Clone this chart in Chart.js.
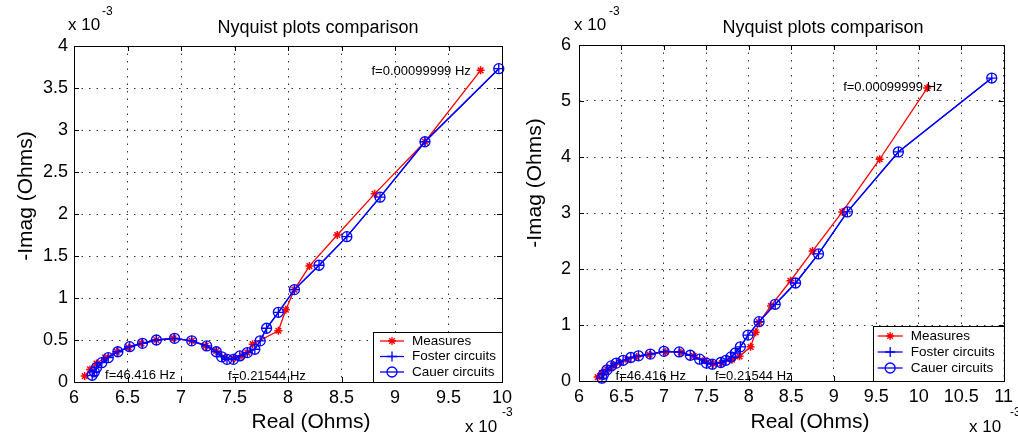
<!DOCTYPE html>
<html>
<head>
<meta charset="utf-8">
<script src="https://cdn.jsdelivr.net/npm/chart.js@4/dist/chart.umd.min.js"></script>
<style>
  body { margin: 0; background: #fff; }
  #wrapA { position: absolute; left: 0; top: 0; }
  #wrapB { position: absolute; left: 509px; top: 0; }
</style>
</head>
<body>
<div id="wrapA"><canvas id="chartA" width="530" height="438"></canvas></div>
<div id="wrapB"><canvas id="chartB" width="509" height="438"></canvas></div>
<script>
// values in units of 1e-3 Ohm (axes carry the "x 10^-3" multiplier)

// --- left plot ---
const measARe = [6.10, 6.15, 6.21, 6.29, 6.40, 6.51, 6.63, 6.77, 6.93, 7.10, 7.23, 7.33, 7.41, 7.49, 7.57, 7.62, 7.67, 7.91, 7.98, 8.06, 8.20, 8.46, 8.81, 9.28, 9.80];
const measAIm = [0.07, 0.15, 0.22, 0.29, 0.36, 0.41, 0.46, 0.50, 0.52, 0.49, 0.43, 0.37, 0.29, 0.28, 0.31, 0.35, 0.45, 0.61, 0.86, 1.10, 1.38, 1.75, 2.24, 2.86, 3.71];
const fosterARe = [6.17, 6.19, 6.21, 6.26, 6.32, 6.41, 6.52, 6.64, 6.77, 6.94, 7.10, 7.24, 7.33, 7.38, 7.43, 7.49, 7.55, 7.62, 7.69, 7.74, 7.80, 7.91, 8.06, 8.29, 8.55, 8.86, 9.28, 9.97];
const fosterAIm = [0.08, 0.12, 0.17, 0.23, 0.29, 0.36, 0.42, 0.46, 0.50, 0.52, 0.49, 0.43, 0.36, 0.30, 0.27, 0.27, 0.31, 0.35, 0.39, 0.49, 0.64, 0.83, 1.10, 1.39, 1.73, 2.20, 2.86, 3.73];
const cauerARe = fosterARe.slice();
const cauerAIm = fosterAIm.slice();
const xTicksA = [6, 6.5, 7, 7.5, 8, 8.5, 9, 9.5, 10];
const yTicksA = [0, 0.5, 1, 1.5, 2, 2.5, 3, 3.5, 4];
const noteTextA = ["f=46.416 Hz", "f=0.21544 Hz", "f=0.00099999 Hz"];
const noteReA = [6.29, 7.44, 8.78];
const noteImA = [0.08, 0.07, 3.70];

// --- right plot ---
const measBRe = [6.22, 6.27, 6.33, 6.40, 6.48, 6.57, 6.68, 6.83, 7.02, 7.20, 7.35, 7.48, 7.58, 7.68, 7.80, 7.89, 8.02, 8.08, 8.12, 8.26, 8.49, 8.75, 9.10, 9.54, 10.10];
const measBIm = [0.07, 0.14, 0.21, 0.27, 0.33, 0.38, 0.43, 0.47, 0.52, 0.51, 0.45, 0.37, 0.31, 0.32, 0.38, 0.44, 0.61, 0.87, 1.05, 1.34, 1.79, 2.32, 3.02, 3.96, 5.23];
const fosterBRe = [6.27, 6.29, 6.33, 6.38, 6.44, 6.52, 6.61, 6.70, 6.84, 7.00, 7.18, 7.31, 7.42, 7.50, 7.57, 7.67, 7.73, 7.79, 7.84, 7.90, 7.99, 8.12, 8.31, 8.55, 8.82, 9.16, 9.76, 10.86];
const fosterBIm = [0.05, 0.12, 0.20, 0.27, 0.32, 0.37, 0.42, 0.45, 0.48, 0.53, 0.52, 0.46, 0.39, 0.32, 0.30, 0.33, 0.37, 0.43, 0.50, 0.61, 0.82, 1.06, 1.37, 1.75, 2.27, 3.02, 4.09, 5.41];
const cauerBRe = fosterBRe.slice();
const cauerBIm = fosterBIm.slice();
const xTicksB = [6, 6.5, 7, 7.5, 8, 8.5, 9, 9.5, 10, 10.5, 11];
const yTicksB = [0, 1, 2, 3, 4, 5, 6];
const noteTextB = ["f=46.416 Hz", "f=0.21544 Hz", "f=0.00099999 Hz"];
const noteReB = [6.43, 7.60, 9.11];
const noteImB = [0.09, 0.09, 5.25];

const seriesNames = ["Measures", "Foster circuits", "Cauer circuits"];
const FONT = "'Liberation Sans', Arial, Helvetica, sans-serif";
const RED = "#ff0000";
const BLUE = "#0000ff";

function pts(re, im) {
  return re.map((v, i) => ({ x: v, y: im[i] }));
}

// small marker painter, used for the legend
function marker(ctx, kind, x, y, color) {
  ctx.strokeStyle = color;
  ctx.lineWidth = 1.3;
  ctx.beginPath();
  if (kind === "star") {
    const r = 4, d = r * 0.707;
    ctx.moveTo(x - r, y); ctx.lineTo(x + r, y);
    ctx.moveTo(x, y - r); ctx.lineTo(x, y + r);
    ctx.moveTo(x - d, y - d); ctx.lineTo(x + d, y + d);
    ctx.moveTo(x - d, y + d); ctx.lineTo(x + d, y - d);
  } else if (kind === "cross") {
    ctx.moveTo(x - 5, y); ctx.lineTo(x + 5, y);
    ctx.moveTo(x, y - 5); ctx.lineTo(x, y + 5);
  } else {
    ctx.arc(x, y, 5, 0, Math.PI * 2);
  }
  ctx.stroke();
}

const matlabLook = {
  id: "matlabLook",
  afterDraw(chart, args, o) {
    const { ctx, chartArea: a, scales } = chart;
    const sx = scales.x, sy = scales.y;
    ctx.save();

    // box + inward ticks
    ctx.strokeStyle = "#000";
    ctx.lineWidth = 1;
    ctx.strokeRect(Math.round(a.left) + 0.5, Math.round(a.top) + 0.5,
      Math.round(a.right - a.left), Math.round(a.bottom - a.top));
    ctx.beginPath();
    sx.ticks.forEach(t => {
      const px = Math.round(sx.getPixelForValue(t.value)) + 0.5;
      ctx.moveTo(px, a.bottom); ctx.lineTo(px, a.bottom - 5);
      ctx.moveTo(px, a.top); ctx.lineTo(px, a.top + 5);
    });
    sy.ticks.forEach(t => {
      const py = Math.round(sy.getPixelForValue(t.value)) + 0.5;
      ctx.moveTo(a.left, py); ctx.lineTo(a.left + 5, py);
      ctx.moveTo(a.right, py); ctx.lineTo(a.right - 5, py);
    });
    ctx.stroke();

    // frequency notes, placed in data coordinates
    ctx.fillStyle = "#000";
    ctx.font = "13px " + FONT;
    ctx.textAlign = "left";
    ctx.textBaseline = "middle";
    o.notes.text.forEach((s, i) => {
      ctx.fillText(s, sx.getPixelForValue(o.notes.re[i]), sy.getPixelForValue(o.notes.im[i]));
    });

    // legend box inside the axes, lower right
    const lg = o.legend;
    const bx = a.right - lg.w, by = a.bottom - lg.h;
    ctx.fillStyle = "#fff";
    ctx.fillRect(bx, by, lg.w, lg.h);
    ctx.lineWidth = 1;
    ctx.strokeStyle = "#000";
    ctx.strokeRect(Math.round(bx) + 0.5, Math.round(by) + 0.5, lg.w, lg.h);
    const kinds = ["star", "cross", "circle"];
    const cols = [RED, BLUE, BLUE];
    ctx.font = "13.5px " + FONT;
    seriesNames.forEach((name, i) => {
      const ry = by + lg.row0 + i * lg.step;
      ctx.strokeStyle = cols[i];
      ctx.lineWidth = 1.3;
      ctx.beginPath();
      ctx.moveTo(bx + lg.l0, ry); ctx.lineTo(bx + lg.l1, ry);
      ctx.stroke();
      marker(ctx, kinds[i], bx + (lg.l0 + lg.l1) / 2, ry, cols[i]);
      ctx.fillStyle = "#000";
      ctx.fillText(name, bx + lg.tx, ry);
    });

    // title, axis labels, exponent multipliers
    ctx.fillStyle = "#000";
    ctx.textAlign = "center";
    ctx.font = "18px " + FONT;
    ctx.fillText("Nyquist plots comparison", o.titleX, 28);
    ctx.font = "21px " + FONT;
    ctx.fillText("Real (Ohms)", o.xLabelX, 422);
    ctx.save();
    ctx.translate(26, o.yLabelY);
    ctx.rotate(-Math.PI / 2);
    ctx.fillText("-Imag (Ohms)", 0, 0);
    ctx.restore();

    ctx.textAlign = "left";
    ctx.font = "17px " + FONT;
    ctx.fillText("x 10", o.topExp[0], 25);
    ctx.fillText("x 10", o.botExp[0], 427);
    ctx.font = "12px " + FONT;
    ctx.fillText("-3", o.topExp[1], 12);
    ctx.fillText("-3", o.botExp[1], 413);

    ctx.restore();
  }
};

function makeChart(id, d) {
  const scaleCommon = (ticks, min, max, isX) => ({
    type: "linear",
    min: min,
    max: max,
    afterBuildTicks: s => { s.ticks = ticks.map(v => ({ value: v })); },
    afterFit: s => {
      if (isX) s.height = d.xAxisH; else s.width = d.yAxisW;
    },
    grid: { color: "#333", lineWidth: 1, drawTicks: false },
    border: { display: false, dash: [1.5, 6] },
    ticks: {
      color: "#000",
      font: { family: FONT, size: 18 },
      padding: isX ? 5 : d.yPad,
      autoSkip: false,
      maxRotation: 0,
      callback: v => String(v)
    }
  });

  return new Chart(document.getElementById(id), {
    type: "scatter",
    data: {
      datasets: [
        {
          label: seriesNames[0], data: pts(d.mRe, d.mIm), showLine: true,
          borderColor: RED, backgroundColor: RED, borderWidth: 1.3,
          pointStyle: "star", pointRadius: 4, pointBorderWidth: 1.5,
          order: 3, clip: false
        },
        {
          label: seriesNames[1], data: pts(d.fRe, d.fIm), showLine: true,
          borderColor: BLUE, backgroundColor: BLUE, borderWidth: 1.3,
          pointStyle: "cross", pointRadius: 5, pointBorderWidth: 1.3,
          order: 2, clip: false
        },
        {
          label: seriesNames[2], data: pts(d.cRe, d.cIm), showLine: true,
          borderColor: BLUE, backgroundColor: "rgba(0,0,0,0)", borderWidth: 1.3,
          pointStyle: "circle", pointRadius: 5, pointBorderWidth: 1.3,
          order: 1, clip: false
        }
      ]
    },
    options: {
      responsive: false,
      animation: false,
      layout: { padding: { top: d.padTop, right: d.padRight, left: 0, bottom: 0 } },
      elements: { line: { tension: 0 } },
      scales: {
        x: scaleCommon(d.xTicks, d.xMin, d.xMax, true),
        y: scaleCommon(d.yTicks, d.yMin, d.yMax, false)
      },
      plugins: {
        legend: { display: false },
        title: { display: false },
        tooltip: { enabled: false },
        matlabLook: {
          notes: { text: d.noteText, re: d.noteRe, im: d.noteIm },
          legend: d.legend,
          titleX: d.titleX, xLabelX: d.xLabelX, yLabelY: d.yLabelY,
          topExp: d.topExp, botExp: d.botExp
        }
      }
    },
    plugins: [matlabLook]
  });
}

makeChart("chartA", {
  mRe: measARe, mIm: measAIm, fRe: fosterARe, fIm: fosterAIm, cRe: cauerARe, cIm: cauerAIm,
  xTicks: xTicksA, yTicks: yTicksA, xMin: 6, xMax: 10, yMin: 0, yMax: 4,
  noteText: noteTextA, noteRe: noteReA, noteIm: noteImA,
  padTop: 46, padRight: 28, yAxisW: 74, xAxisH: 56, yPad: 6,
  legend: { w: 129, h: 50, row0: 9, step: 15.5, l0: 7, l1: 31, tx: 39 },
  titleX: 318, xLabelX: 311, yLabelY: 196,
  topExp: [68, 102], botExp: [465, 502]
});

makeChart("chartB", {
  mRe: measBRe, mIm: measBIm, fRe: fosterBRe, fIm: fosterBIm, cRe: cauerBRe, cIm: cauerBIm,
  xTicks: xTicksB, yTicks: yTicksB, xMin: 6, xMax: 11, yMin: 0, yMax: 6,
  noteText: noteTextB, noteRe: noteReB, noteIm: noteImB,
  padTop: 45, padRight: 10, yAxisW: 70, xAxisH: 57, yPad: 8,
  legend: { w: 131, h: 55, row0: 10, step: 16, l0: 5, l1: 30, tx: 38 },
  titleX: 314, xLabelX: 301, yLabelY: 183,
  topExp: [65, 100], botExp: [460, 501]
});
</script>
</body>
</html>
